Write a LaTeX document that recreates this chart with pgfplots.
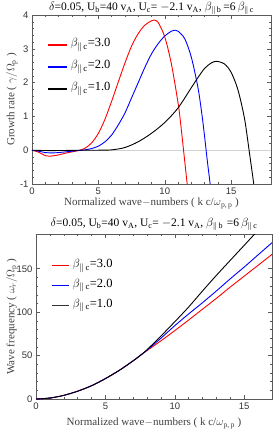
\documentclass[border=0pt]{standalone}
\usepackage{pgfplots}
\pgfplotsset{compat=1.18}
\usepackage{fontspec}
\setmainfont{Liberation Serif}
\newfontfamily\ticksf{Liberation Sans}
\definecolor{framegray}{RGB}{90,90,90}
\definecolor{legred}{RGB}{255,0,0}
\definecolor{legblue}{RGB}{0,0,255}
\tikzset{leg/.style={font=\fontsize{12.5}{13}\selectfont, anchor=west, inner sep=0pt, xshift=3.5pt, text=black}}
\pgfplotsset{
  myaxis/.style={
    scale only axis,
    axis line style={framegray, line width=0.6pt},
    tick align=inside,
    major tick length=3.5pt,
    minor tick length=2pt,
    every tick/.style={framegray, line width=0.5pt},
    tick label style={font=\ticksf\fontsize{9.5}{10}\selectfont, text=black!80},
    /pgf/number format/assume math mode=true,
    every axis title/.style={font=\fontsize{11.5}{12}\selectfont, inner sep=0pt, at={(0.5,1)}, anchor=base},
    every axis x label/.style={font=\fontsize{11}{12}\selectfont, text=black!75, inner sep=0pt, at={(0.5,0)}, anchor=base},
    every axis y label/.style={font=\fontsize{11}{12}\selectfont, text=black!75, inner sep=0pt, rotate=90, anchor=center},
    every axis plot/.append style={line width=0.9pt, smooth},
    clip=true,
  },
}
\begin{document}
\begin{tikzpicture}
\useasboundingbox (0,0) rectangle (275pt,432pt);
% ---------------- top axis ----------------
\begin{axis}[myaxis,
  at={(32pt,248pt)}, anchor=south west,
  width=239pt, height=169pt,
  xmin=0, xmax=18, ymin=-1, ymax=4,
  xtick={0,5,10,15}, minor x tick num=4,
  ytick={-1,0,1,2,3,4}, minor y tick num=4,
  extra y ticks={0}, extra y tick labels={},
  extra y tick style={grid=major, major grid style={gray!35, line width=0.5pt}, major tick length=0pt},
  title={$\delta$=0.05, U\textsubscript{b}=40 v\textsubscript{A}, U\textsubscript{c}= $-$2.1 v\textsubscript{A}, $\beta_{\parallel\,\mathrm{b}}$\,=6\,$\beta_{\parallel\,\mathrm{c}}$},
  title style={yshift=4.5pt},
  xlabel={Normalized wave$-$numbers ( k c/$\omega$\textsubscript{p,\,p} )},
  xlabel style={yshift=-22pt},
  ylabel={Growth rate ( $\gamma/\Omega$\textsubscript{p} )},
  ylabel style={at={(axis description cs:-0.084,0.5)}},
]
\addplot[red] coordinates {
(0,0) (0.5,-0.06) (1.0,-0.16) (1.3,-0.18) (2.0,-0.14) (2.5,-0.09) (3.0,-0.05) (3.5,-0.01)
(4.0,0.06) (4.5,0.22) (5.0,0.5) (5.5,0.92) (6.0,1.45) (6.5,2.02) (7.0,2.58) (7.5,3.08)
(8.0,3.45) (8.5,3.7) (9.0,3.83) (9.2,3.85) (9.5,3.78) (10.0,3.35) (10.5,2.55) (11.0,1.4)
(11.15,0.95) (11.4,0.05) (11.7,-1.05)};
\addplot[blue] coordinates {
(0,0) (0.5,-0.03) (1.0,-0.07) (1.5,-0.08) (2.0,-0.07) (2.5,-0.05) (3.0,-0.03) (3.5,-0.01)
(4.0,0.01) (4.5,0.05) (5.0,0.12) (5.5,0.25) (6.0,0.45) (6.5,0.75) (7.0,1.1) (7.5,1.55)
(8.0,2.0) (8.5,2.45) (9.0,2.85) (9.5,3.15) (10.0,3.38) (10.5,3.52) (10.8,3.55) (11.0,3.52)
(11.5,3.3) (12.0,2.75) (12.5,1.85) (12.8,1.05) (13.0,0.4) (13.2,-0.3) (13.45,-1.1)};
\addplot[black] coordinates {
(0,0) (1,-0.01) (2,-0.01) (3,-0.005) (4,0) (5,0) (6,0.01) (7,0.08) (8,0.25) (9,0.5)
(10,0.82) (11,1.25) (12,1.85) (12.5,2.15) (13,2.42) (13.5,2.58) (13.9,2.63) (14.5,2.55)
(15,2.3) (15.5,1.8) (16,0.95) (16.35,0.0) (16.72,-1.05)};
% legend
\draw[draw=legred, line width=1.3pt] (axis description cs:0.067,0.822) -- (axis description cs:0.146,0.822);
\node[leg] at (axis description cs:0.146,0.822) {$\beta_{\parallel\,\mathrm{c}}$=3.0};
\draw[draw=legblue, line width=1.3pt] (axis description cs:0.067,0.692) -- (axis description cs:0.146,0.692);
\node[leg] at (axis description cs:0.146,0.692) {$\beta_{\parallel\,\mathrm{c}}$=2.0};
\draw[draw=black, line width=1.3pt] (axis description cs:0.067,0.562) -- (axis description cs:0.146,0.562);
\node[leg] at (axis description cs:0.146,0.562) {$\beta_{\parallel\,\mathrm{c}}$=1.0};
\end{axis}
% ---------------- bottom axis ----------------
\begin{axis}[myaxis,
  at={(36pt,33pt)}, anchor=south west,
  width=236pt, height=165pt,
  xmin=0, xmax=17, ymin=0, ymax=190,
  xtick={0,5,10,15}, minor x tick num=4,
  ytick={0,50,100,150}, minor y tick num=4,
  title={$\delta$=0.05, U\textsubscript{b}=40 v\textsubscript{A}, U\textsubscript{c}= $-$2.1 v\textsubscript{A}, $\beta_{\parallel\,\mathrm{b}}$\,\,=6\,$\beta_{\parallel\,\mathrm{c}}$},
  title style={yshift=7.5pt},
  xlabel={Normalized wave$-$numbers ( k c/$\omega$\textsubscript{p,\,p} )},
  xlabel style={yshift=-27pt},
  ylabel={Wave frequency ( $\omega_r/\Omega$\textsubscript{p} )},
  ylabel style={at={(axis description cs:-0.102,0.5)}},
]
\addplot[red] coordinates {
(0,0) (1,1.1) (2,4.2) (3,9.0) (4,15.3) (5,23.5) (6,33) (7,44) (7.5,50) (8,55.8)
(9,67) (10,78.8) (11,91) (12,103.5) (13,116) (14,129) (15,141.5) (16,154) (17,166.5)};
\addplot[blue] coordinates {
(0,0) (1,1.1) (2,4.2) (3,9.0) (4,15.3) (5,23.5) (6,33) (7,44) (7.5,50) (8,56.3)
(9,70) (10,84.5) (11,98) (12,111) (13,124.5) (14,138.5) (15,152) (16,166) (17,180)};
\addplot[black] coordinates {
(0,0) (1,1.1) (2,4.2) (3,9.0) (4,15.3) (5,23.5) (6,33) (7,44) (7.5,50) (8,56.8)
(9,72.5) (10,89) (11,106) (12,124.5) (13,142.5) (14,159.8) (15,177) (15.8,190.8) (16,194)};
% legend
\draw[draw=legred, line width=1.4pt] (axis description cs:0.068,0.808) -- (axis description cs:0.14,0.808);
\node[leg] at (axis description cs:0.14,0.808) {$\beta_{\parallel\,\mathrm{c}}$=3.0};
\draw[draw=legblue, line width=1.4pt] (axis description cs:0.068,0.687) -- (axis description cs:0.14,0.687);
\node[leg] at (axis description cs:0.14,0.687) {$\beta_{\parallel\,\mathrm{c}}$=2.0};
\draw[draw=black!80, line width=1.6pt] (axis description cs:0.068,0.566) -- (axis description cs:0.14,0.566);
\node[leg] at (axis description cs:0.14,0.566) {$\beta_{\parallel\,\mathrm{c}}$=1.0};
\end{axis}
\end{tikzpicture}
\end{document}
